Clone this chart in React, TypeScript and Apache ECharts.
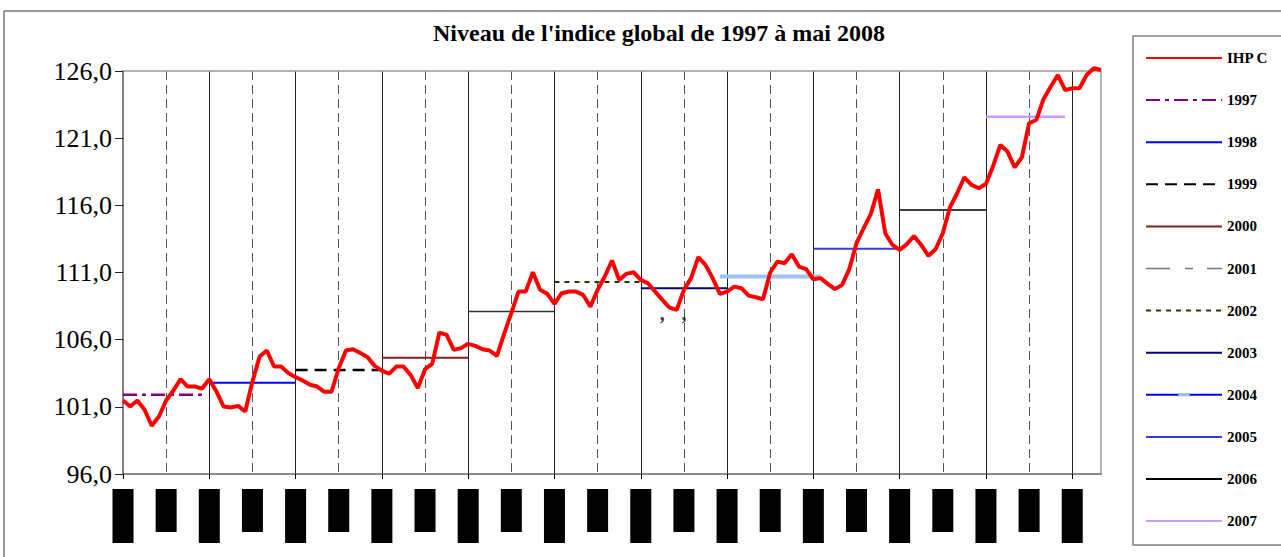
import React, { useEffect, useRef } from "react";
import * as echarts from "echarts";

// ---- categories (months Jan 1997 .. May 2008)
const monthNames = ["janv", "févr", "mars", "avr", "mai", "juin", "juil", "août", "sept", "oct", "nov", "déc"];
const yearSuffixes = ["97", "98", "99", "00", "01", "02", "03", "04", "05", "06", "07", "08"];
const lastYearMonths = 5;
const categories: string[] = [];
yearSuffixes.forEach((y, yi) => {
  monthNames.forEach((m, mi) => {
    if (yi < yearSuffixes.length - 1 || mi < lastYearMonths) categories.push(`${m}-${y}`);
  });
});

// ---- monthly index (IHP C)
const ihpc = [
  101.47, 101.02, 101.47, 100.78, 99.59, 100.28, 101.47, 102.21, 103.06, 102.51, 102.51, 102.36,
  103.06, 102.14, 101.02, 100.95, 101.07, 100.65, 102.88, 104.74, 105.19, 104.0, 104.0, 103.51,
  103.21, 102.96, 102.64, 102.51, 102.12, 102.12, 103.88, 105.19, 105.29, 105.0, 104.7, 104.05,
  103.7, 103.46, 104.0, 104.0, 103.38, 102.39, 103.8, 104.2, 106.53, 106.36, 105.24, 105.37,
  105.69, 105.54, 105.29, 105.19, 104.8, 106.43, 107.97, 109.58, 109.58, 111.02, 109.71, 109.41,
  108.66, 109.46, 109.58, 109.58, 109.33, 108.46, 109.71, 110.7, 111.89, 110.45, 110.9, 111.02,
  110.45, 110.2, 109.58, 108.96, 108.39, 108.22, 109.71, 110.58, 112.14, 111.57, 110.58, 109.41,
  109.58, 109.95, 109.83, 109.28, 109.16, 109.01, 111.0, 111.81, 111.69, 112.36, 111.44, 111.25,
  110.5, 110.58, 110.15, 109.76, 110.08, 111.25, 113.18, 114.3, 115.36, 117.2, 113.92, 113.05,
  112.68, 113.11, 113.72, 113.05, 112.24, 112.73, 113.92, 115.86, 116.9, 118.09, 117.52, 117.27,
  117.59, 118.93, 120.49, 120.0, 118.83, 119.58, 122.11, 122.35, 123.9, 124.83, 125.7, 124.59,
  124.71, 124.71, 125.7, 126.2, 126.07,
];

// ---- yearly averages
const avgYears = ["1997", "1998", "1999", "2000", "2001", "2002", "2003", "2004", "2005", "2006", "2007"];
const avgValues = [101.9, 102.8, 103.75, 104.65, 108.1, 110.3, 109.83, 110.7, 112.76, 115.66, 122.6];
const avgStart = [0, 12, 24, 36, 48, 60, 72, 83, 96, 108, 120];
const avgEnd = [11, 24, 36, 48, 60, 72, 84, 97, 108, 120, 131];

// ---- stray comma marks
const commaIdx = [75, 78];
const commaVal = [108.0, 108.0];

// ---- y axis
const yMin = 96;
const yMax = 126;
const yStep = 5;

const avgLineStyles: any[] = [
  { color: "#800080", width: 2.5, type: [14, 5, 4, 5] },
  { color: "#0000FF", width: 2, type: "solid" },
  { color: "#000000", width: 2.5, type: [12, 7] },
  { color: "#8B1A1A", width: 2, type: "solid" },
  { color: "#333333", width: 1.5, type: "solid" },
  { color: "#333300", width: 2, type: [5, 5] },
  { color: "#000080", width: 2, type: "solid" },
  { color: "#9CC3EE", width: 4, type: "solid" },
  { color: "#3A3AD0", width: 2, type: "solid" },
  { color: "#000000", width: 1.5, type: "solid" },
  { color: "#CC99FF", width: 2.5, type: "solid" },
];

const legendOverrides: Record<string, any> = {
  "2001": { lineStyle: { color: "#777777", width: 1.5, type: [24, 15, 8, 14] } },
  "2004": { lineStyle: { color: "#0000DD", width: 2, type: "solid" }, itemStyle: { color: "#9CC3EE", opacity: 1 } },
};

export default function App() {
  const ref = useRef<HTMLDivElement>(null);
  useEffect(() => {
    if (!ref.current) return;
    const chart = echarts.init(ref.current, undefined, { renderer: "svg" });

    const avgSeries = avgYears.map((name, k) => ({
      name,
      type: "line",
      symbol: name === "2004" ? "path://M0,0M0,5H14V9H0ZM14,14" : "none",
      showSymbol: false,
      data: categories.map((_, i) => (i >= avgStart[k] && i <= avgEnd[k] ? avgValues[k] : null)),
      lineStyle: avgLineStyles[k],
      itemStyle: { color: avgLineStyles[k].color },
      z: 2,
      silent: true,
    }));

    const legendData = ["IHP C", ...avgYears].map((name) => ({
      name,
      itemStyle: { opacity: 0 },
      ...(legendOverrides[name] || {}),
    }));

    const option: any = {
      animation: false,
      backgroundColor: "#ffffff",
      title: {
        text: "Niveau de l'indice global de 1997 à mai 2008",
        left: 654,
        top: 16,
        textAlign: "center",
        textStyle: { fontFamily: "Liberation Serif", fontWeight: "bold", fontSize: 24, color: "#000" },
      },
      graphic: [
        { type: "rect", shape: { x: 4, y: 11, width: 1400, height: 700 }, style: { fill: "none", stroke: "#333", lineWidth: 1 }, silent: true },
        { type: "rect", shape: { x: 1133, y: 36, width: 200, height: 509 }, style: { fill: "none", stroke: "#808080", lineWidth: 1.5 }, silent: true },
      ],
      legend: {
        orient: "vertical",
        left: 1145,
        top: 50.5,
        padding: 0,
        itemWidth: 76,
        itemHeight: 14,
        itemGap: 27.1,
        data: legendData,
        textStyle: { fontFamily: "Liberation Serif", fontWeight: "bold", fontSize: 15, lineHeight: 15, color: "#000" },
        selectedMode: false,
      },
      grid: { left: 123, right: 180, top: 71, bottom: 83, containLabel: false },
      xAxis: [
        {
          type: "category",
          data: categories,
          boundaryGap: false,
          position: "bottom",
          axisLine: { show: true, lineStyle: { color: "#666", width: 1.5 } },
          axisTick: { show: true, interval: (i: number) => i % 12 === 0, length: 5, lineStyle: { color: "#000" } },
          splitLine: { show: true, interval: (i: number) => i % 12 === 0 && i > 0, lineStyle: { color: "#222", width: 1 } },
          axisLabel: {
            show: true,
            interval: (i: number) => i % 6 === 0,
            rotate: 90,
            margin: 15,
            formatter: (v: string) => (v.startsWith("janv") ? `{a|${v}}` : `{b|${v}}`),
            rich: {
              a: { width: 54, height: 21, lineHeight: 21, backgroundColor: "#000", color: "#000", fontSize: 12, align: "center" },
              b: { width: 43, height: 21, lineHeight: 21, backgroundColor: "#000", color: "#000", fontSize: 12, align: "center" },
            },
          },
        },
        {
          type: "category",
          data: categories,
          boundaryGap: false,
          position: "top",
          axisLine: { show: true, lineStyle: { color: "#9a9a9a", width: 1.5 } },
          axisTick: { show: false },
          axisLabel: { show: false },
          splitLine: { show: true, interval: (i: number) => i % 12 === 6, lineStyle: { color: "#555", width: 1, type: [9, 5] } },
        },
      ],
      yAxis: [
        {
          type: "value",
          min: yMin,
          max: yMax,
          interval: yStep,
          axisLine: { show: true, lineStyle: { color: "#808080", width: 2 } },
          axisTick: { show: true, length: 8, lineStyle: { color: "#222" } },
          splitLine: { show: false },
          axisLabel: {
            margin: 11,
            fontFamily: "Liberation Serif",
            fontSize: 26,
            color: "#000",
            formatter: (v: number) => v.toFixed(1).replace(".", ","),
          },
        },
        {
          type: "value",
          min: yMin,
          max: yMax,
          interval: yStep,
          position: "right",
          axisLine: { show: true, lineStyle: { color: "#9a9a9a", width: 1.5 } },
          axisTick: { show: false },
          axisLabel: { show: false },
          splitLine: { show: false },
        },
      ],
      series: [
        {
          name: "IHP C",
          type: "line",
          symbol: "none",
          data: ihpc,
          clip: false,
          lineStyle: { color: "#FF0000", width: 4 },
          itemStyle: { color: "#FF0000" },
          z: 5,
          silent: true,
        },
        ...avgSeries,
        {
          name: "marks",
          type: "scatter",
          symbolSize: 0,
          data: commaIdx.map((x, i) => [x, commaVal[i]]),
          label: { show: true, position: "inside", formatter: ",", fontSize: 20, fontWeight: "bold", color: "#000", fontFamily: "Liberation Serif" },
          silent: true,
          z: 6,
        },
      ],
    };
    chart.setOption(option);
    return () => chart.dispose();
  }, []);
  return (
    <div
      ref={ref}
      style={{ position: "fixed", left: 0, top: 0, width: 1281, height: 557, background: "#fff" }}
    />
  );
}
